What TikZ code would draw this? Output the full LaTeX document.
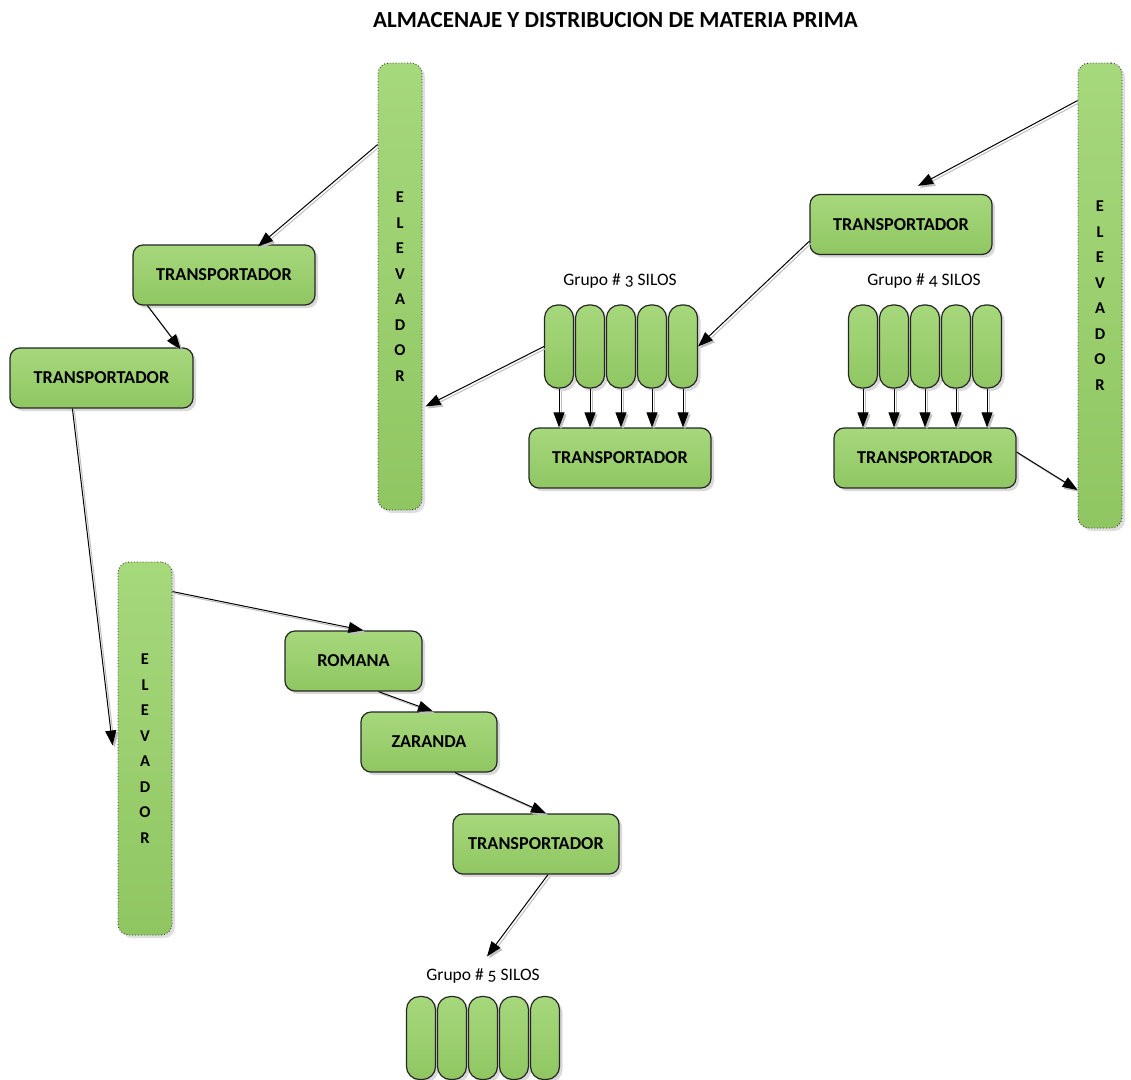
\documentclass[tikz,border=0pt]{standalone}
\usepackage{fontspec}
\setmainfont{Carlito}[Numbers=OldStyle]
\usetikzlibrary{shadows,arrows.meta,calc}
\definecolor{gtop}{RGB}{166,216,124}
\definecolor{gbot}{RGB}{144,198,98}
\tikzset{
  greenfill/.style={top color=gtop, bottom color=gbot},
  box/.style={draw=black!85, line width=1.2pt, rounded corners=10pt, greenfill,
    minimum height=60pt, inner sep=0pt, font=\fontsize{18.2}{18}\selectfont\bfseries,
    drop shadow={shadow xshift=3pt, shadow yshift=-3pt, opacity=0.3}},
  elev/.style={draw=black!80, dotted, line width=0.9pt, rounded corners=11pt, greenfill,
    minimum width=44pt, inner sep=0pt, align=center,
    font=\fontsize{16.5}{25.5}\selectfont\bfseries,
    drop shadow={shadow xshift=3pt, shadow yshift=-3pt, opacity=0.25}},
  silo/.style={draw=black!85, line width=1.2pt, rounded corners=13pt, greenfill,
    minimum width=29pt, minimum height=83pt, inner sep=0pt,
    drop shadow={shadow xshift=3pt, shadow yshift=-3pt, opacity=0.3}},
  glabel/.style={font=\fontsize{17.5}{17.5}\selectfont, inner sep=0pt},
  conn/.style={line width=1pt, -{Triangle[length=15pt,width=11pt]},
    preaction={draw=black!25, line width=1pt, transform canvas={shift={(2pt,-2pt)}}}},
}
\begin{document}
\begin{tikzpicture}[x=1pt,y=-1pt]
\useasboundingbox (0,0) rectangle (1131,1079);
\node[font=\fontsize{23}{23}\selectfont\bfseries, inner sep=0pt] (title) at (615.5,20) {ALMACENAJE Y DISTRIBUCION DE MATERIA PRIMA};

% elevators
\node[elev, minimum height=447pt] (e1) at (400,286.5) {E\\L\\E\\V\\A\\D\\O\\R};
\node[elev, minimum height=465pt] (e2) at (1100,295.5) {E\\L\\E\\V\\A\\D\\O\\R};
\node[elev, minimum width=54pt, minimum height=373pt] (e3) at (145,748.5) {E\\L\\E\\V\\A\\D\\O\\R};

% transportadores
\node[box, minimum width=182pt] (t1) at (224,275) {TRANSPORTADOR};
\node[box, minimum width=183pt] (t2) at (101.5,378) {TRANSPORTADOR};
\node[box, minimum width=182pt] (t3) at (901,224.5) {TRANSPORTADOR};
\node[box, minimum width=182pt] (t4) at (620,458) {TRANSPORTADOR};
\node[box, minimum width=182pt] (t5) at (925,458) {TRANSPORTADOR};
\node[box, minimum width=137pt] (rom) at (353.5,661) {ROMANA};
\node[box, minimum width=136pt] (zar) at (429,742) {ZARANDA};
\node[box, minimum width=166pt] (t6) at (536,844) {TRANSPORTADOR};

% silos group 3
\foreach \i/\x in {1/559,2/590,3/621,4/652,5/683}{
  \node[silo] (s3\i) at (\x,346.5) {};
}
\node[glabel] (g3) at (620,281) {Grupo \# 3 SILOS};
% silos group 4
\foreach \i/\x in {1/863,2/894,3/925,4/956,5/987}{
  \node[silo] (s4\i) at (\x,346.5) {};
}
\node[glabel] (g4) at (924,281) {Grupo \# 4 SILOS};
% silos group 5
\foreach \i/\x in {1/421,2/452,3/483,4/514,5/545}{
  \node[silo] (s5\i) at (\x,1038) {};
}
\node[glabel] (g5) at (483,976) {Grupo \# 5 SILOS};

% silo arrows
\foreach \i in {1,...,5}{
  \draw[conn] (s3\i.south) -- (s3\i.south |- t4.north);
  \draw[conn] (s4\i.south) -- (s4\i.south |- t5.north);
}

% connectors
\draw[conn] ([yshift=-82pt]e1.north west) -- ([xshift=34pt,yshift=-2pt]t1.north);
\draw[conn] ([xshift=15pt]t1.south west) -- ([xshift=-13pt,yshift=-2pt]t2.north east);
\draw[conn] ([xshift=63pt]t2.south west) -- ([xshift=-5pt,yshift=3pt]e3.west);
\draw[conn] ([yshift=-30pt]e3.north east) -- ([xshift=10pt]rom.north);
\draw[conn] ([xshift=25pt]rom.south) -- ([xshift=4pt]zar.north);
\draw[conn] ([xshift=26pt]zar.south) -- ([xshift=10pt]t6.north);
\draw[conn] ([xshift=12pt]t6.south) -- ([xshift=4pt,yshift=12pt]g5.north);
\draw[conn] (s31.west) -- ([xshift=3pt,yshift=-120pt]e1.east);
\draw[conn] ([yshift=14pt]t3.south west) -- (s35.east);
\draw[conn] ([yshift=-38pt]e2.north west) -- ([xshift=17pt,yshift=8pt]t3.north);
\draw[conn] ([yshift=6pt]t5.east) -- ([yshift=-194.5pt]e2.west);
\end{tikzpicture}
\end{document}
